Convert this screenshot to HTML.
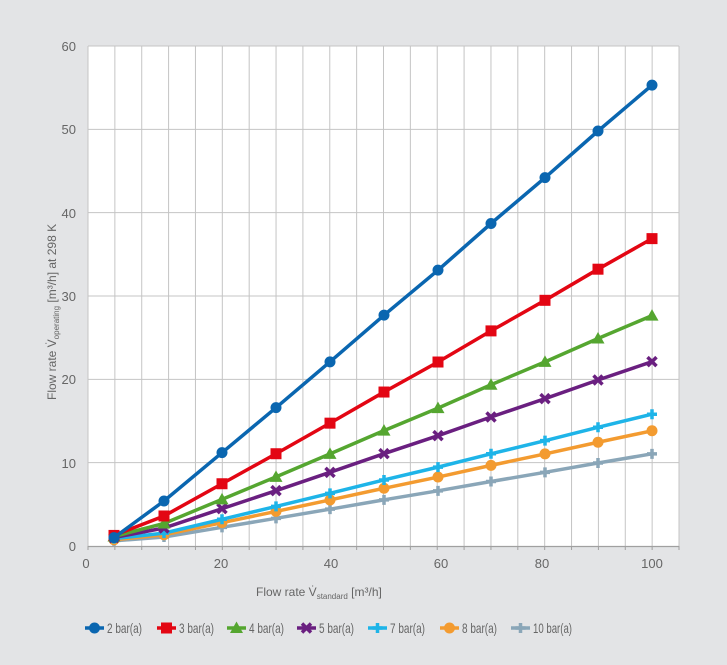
<!DOCTYPE html>
<html><head><meta charset="utf-8"><style>
html,body{margin:0;padding:0;background:#e3e4e6;}
svg{display:block;font-family:"Liberation Sans",sans-serif;}
</style></head><body>
<svg id="c" width="727" height="665" xmlns="http://www.w3.org/2000/svg">
<rect width="727" height="665" fill="#e3e4e6"/>
<rect x="88" y="46" width="591" height="500" fill="#fff"/>
<g id="grid" stroke="#c4c4c4" stroke-width="1"></g>
<line x1="88" y1="546.5" x2="679" y2="546.5" stroke="#a0a0a0" stroke-width="1.2"/>
<g id="ticks" stroke="#a0a0a0" stroke-width="1"></g>
<g font-size="13" fill="#666" text-anchor="end">
<text x="76" y="551">0</text><text x="76" y="468">10</text><text x="76" y="384">20</text>
<text x="76" y="301">30</text><text x="76" y="218">40</text><text x="76" y="134">50</text><text x="76" y="51">60</text>
</g>
<g font-size="13" fill="#666" text-anchor="middle">
<text x="86" y="568">0</text><text x="221" y="568">20</text><text x="331" y="568">40</text>
<text x="441" y="568">60</text><text x="542" y="568">80</text><text x="652" y="568">100</text>
</g>
<text x="256" y="596" font-size="12" fill="#666">Flow rate V̇<tspan font-size="8" dy="3">standard</tspan><tspan dy="-3"> [m³/h]</tspan></text>
<text transform="translate(56,400) rotate(-90)" font-size="12" fill="#666">Flow rate V̇<tspan font-size="8" dy="3">operating</tspan><tspan dy="-3"> [m³/h] at 298 K</tspan></text>
<g id="series"></g>
<g id="legend" font-size="14" fill="#666"></g>
</svg>
<script>
var NS="http://www.w3.org/2000/svg";
function el(t,a,p){var e=document.createElementNS(NS,t);for(var k in a)e.setAttribute(k,a[k]);p.appendChild(e);return e;}
var g=document.getElementById("grid");
for(var i=1;i<22;i++){var x=88+i*591/22;el("line",{x1:x,y1:46,x2:x,y2:546},g);}
el("line",{x1:679,y1:46,x2:679,y2:546},g);
for(var j=1;j<=6;j++){var y=546-j*500/6;el("line",{x1:88,y1:y,x2:679,y2:y},g);}
el("line",{x1:88,y1:46,x2:88,y2:546},g);
var tk=document.getElementById("ticks");
for(var i=0;i<=22;i++){var x=88+i*591/22;el("line",{x1:x,y1:546,x2:x,y2:550},tk);}
var xs=[114,164,222,276,330,384,438,491,545,598,652];
var v2=[1.0,5.4,11.2,16.6,22.1,27.7,33.1,38.7,44.2,49.8,55.3];
var S=[["#0a66b0",1,"c","2 bar(a)"],["#e30613",0.667,"s","3 bar(a)"],["#55a630",0.5,"t","4 bar(a)"],["#6a1f80",0.4,"x","5 bar(a)"],["#1eb4e8",0.286,"p","7 bar(a)"],["#f39b30",0.25,"c","8 bar(a)"],["#8aa6b8",0.2,"p","10 bar(a)"]];
var sg=document.getElementById("series");
function mk(t,x,y,c,p){
 if(t=="c")el("circle",{cx:x,cy:y,r:5.5,fill:c},p);
 else if(t=="s")el("rect",{x:x-5.5,y:y-5.5,width:11,height:11,fill:c},p);
 else if(t=="t")el("polygon",{points:(x)+","+(y-6.5)+" "+(x+6.5)+","+(y+5)+" "+(x-6.5)+","+(y+5),fill:c},p);
 else if(t=="x"){el("path",{d:"M"+(x-4.5)+","+(y-4.5)+"L"+(x+4.5)+","+(y+4.5)+"M"+(x+4.5)+","+(y-4.5)+"L"+(x-4.5)+","+(y+4.5),stroke:c,"stroke-width":3.5},p);}
 else {el("path",{d:"M"+(x-5)+","+y+"L"+(x+5)+","+y+"M"+x+","+(y-5)+"L"+x+","+(y+5),stroke:c,"stroke-width":3.5},p);}
}
for(var k=S.length-1;k>=0;k--){var s=S[k],pts=[];
 for(var i=0;i<11;i++){var v=i==0?(k==0?1.0:1.4-0.13*k):v2[i]*s[1];pts.push([xs[i],546-v*500/60]);}
 el("polyline",{points:pts.map(function(p){return p.join(",")}).join(" "),fill:"none",stroke:s[0],"stroke-width":3.5},sg);
 pts.forEach(function(p){mk(s[2],p[0],p[1],s[0],sg);});
}
var lg=document.getElementById("legend");
var lx=[85,157,227,297,368,440,511];
S.forEach(function(s,i){var x=lx[i];el("line",{x1:x,y1:628,x2:x+19,y2:628,stroke:s[0],"stroke-width":3.5},lg);mk(s[2],x+9.5,628,s[0],lg);
 var t=el("text",{x:x+22,y:633,textLength:(i==6?39:35),lengthAdjust:"spacingAndGlyphs"},lg);t.textContent=s[3];});
</script>
</body></html>
